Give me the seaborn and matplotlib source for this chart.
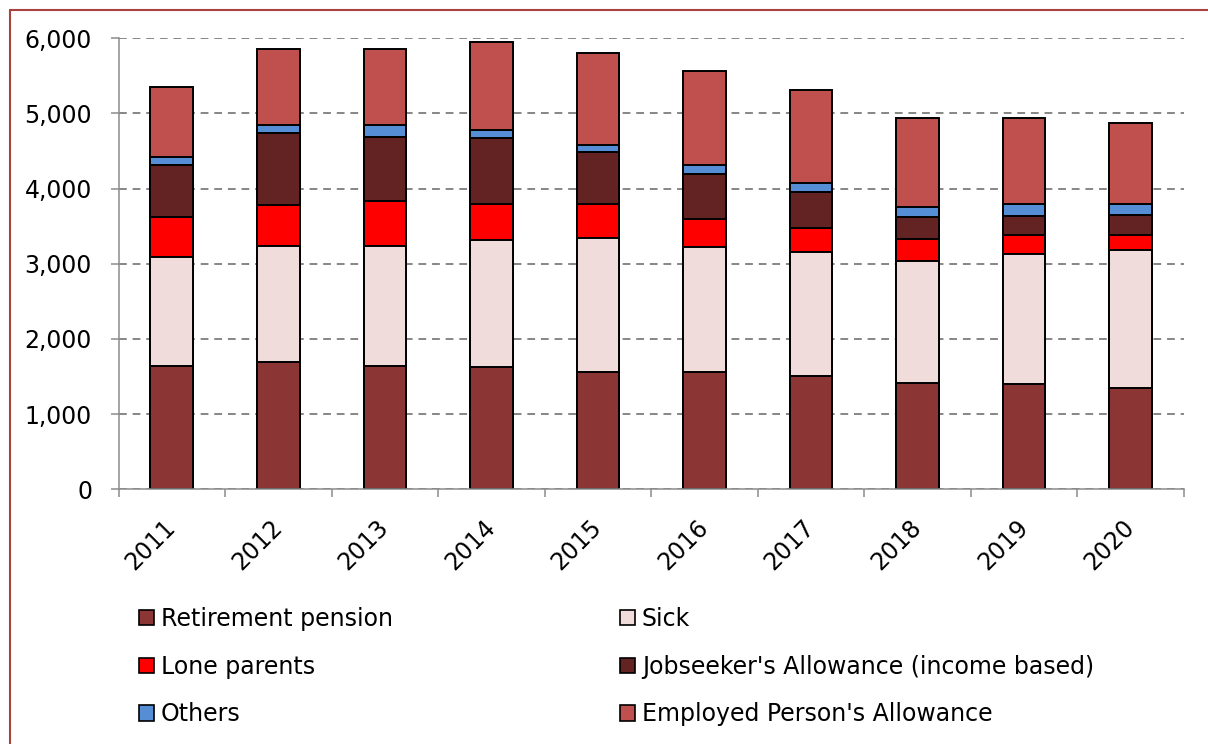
import matplotlib
matplotlib.use("Agg")
import matplotlib.pyplot as plt
import seaborn as sns
import pandas as pd
import numpy as np
from matplotlib.lines import Line2D
from matplotlib.patches import Patch
from matplotlib.ticker import FuncFormatter

# Veriler
years = ['2011', '2012', '2013', '2014', '2015', '2016', '2017', '2018', '2019', '2020']
retirement = [1636, 1698, 1641, 1627, 1557, 1557, 1503, 1410, 1397, 1348]
sick = [1455, 1535, 1592, 1690, 1787, 1663, 1650, 1632, 1729, 1832]
lone_parents = [536, 554, 598, 483, 448, 376, 319, 293, 262, 208]
jobseekers = [688, 954, 861, 878, 691, 599, 479, 284, 253, 262]
others = [102, 110, 159, 107, 102, 120, 129, 142, 159, 142]
employed = [940, 1003, 1011, 1166, 1215, 1246, 1228, 1175, 1136, 1086]

series_names = ['Retirement pension', 'Sick', 'Lone parents',
                "Jobseeker's Allowance (income based)", 'Others',
                "Employed Person's Allowance"]
series_values = [retirement, sick, lone_parents, jobseekers, others, employed]
colors = ['#8B3635', '#F0DCDB', '#FF0000', '#632322', '#558ED5', '#C0504D']

sns.set_style('white')
plt.rcParams['font.family'] = ['DejaVu Sans']
plt.rcParams['text.color'] = 'black'
plt.rcParams['xtick.labelcolor'] = 'black'
plt.rcParams['ytick.labelcolor'] = 'black'

fig = plt.figure(figsize=(12.08, 7.44), dpi=100)
ax = fig.add_axes([118.5 / 1208, (744 - 489.3) / 744, 1065.5 / 1208, 451 / 744])

# Kümülatif toplamlar: üstten alta doğru çiz, alt katman üsttekini örter
df = pd.DataFrame(dict(zip(series_names, series_values)), index=years)
cum = df.cumsum(axis=1)
for name, color in reversed(list(zip(series_names, colors))):
    part = pd.DataFrame({'year': years, 'value': cum[name].values})
    sns.barplot(data=part, x='year', y='value', color=color, saturation=1,
                errorbar=None, width=0.4, edgecolor='black', linewidth=1.4, ax=ax)

# Eksenler
ax.set_ylim(0, 6000)
ax.set_xlim(-0.5, 9.5)
ax.set_yticks(np.arange(0, 6001, 1000))
ax.yaxis.set_major_formatter(FuncFormatter(lambda v, p: f'{v:,.0f}'))
ax.set_xlabel('')
ax.set_ylabel('')

ax.yaxis.grid(True, linestyle=(0, (4, 3)), color='#868686', linewidth=1.4)
ax.set_axisbelow(True)

for s in ['top', 'right']:
    ax.spines[s].set_visible(False)
for s in ['left', 'bottom']:
    ax.spines[s].set_color('#8C8C8C')
    ax.spines[s].set_linewidth(1.1)

ax.tick_params(axis='y', direction='out', length=6, width=1.1, color='#8C8C8C',
               labelsize=17, pad=13, left=True, labelcolor='black')
ax.tick_params(axis='x', which='major', length=0, labelsize=17, pad=25,
               labelcolor='black')
ax.set_xticks(np.arange(-0.5, 10, 1), minor=True)
ax.tick_params(axis='x', which='minor', direction='out', length=6, width=1.1,
               color='#8C8C8C', bottom=True)
for lbl in ax.get_xticklabels():
    lbl.set_rotation(45)
    lbl.set_ha('right')
    lbl.set_va('center')
    lbl.set_rotation_mode('anchor')

# Lejant: iki sütun, ayrı ayrı yerleştir
handles = [Patch(facecolor=c, edgecolor='black', linewidth=1.2) for c in colors]
leg_kw = dict(frameon=False, fontsize=17, handlelength=0.62, handleheight=0.62,
              handletextpad=0.3, labelspacing=1.0, borderpad=0, borderaxespad=0,
              loc='upper left')
leg1 = fig.legend([handles[0], handles[2], handles[4]],
                  [series_names[0], series_names[2], series_names[4]],
                  bbox_to_anchor=(139 / 1208, 1 - 607 / 744), **leg_kw)
leg2 = fig.legend([handles[1], handles[3], handles[5]],
                  [series_names[1], series_names[3], series_names[5]],
                  bbox_to_anchor=(620 / 1208, 1 - 607 / 744), **leg_kw)
for leg in (leg1, leg2):
    for t in leg.get_texts():
        t.set_color('black')

# Grafik alanı çerçevesi
border = '#A8423F'
fig.add_artist(Line2D([10 / 1208, 10 / 1208], [0, 1 - 10 / 744],
                      transform=fig.transFigure, color=border, lw=1.5))
fig.add_artist(Line2D([10 / 1208, 1], [1 - 10 / 744, 1 - 10 / 744],
                      transform=fig.transFigure, color=border, lw=1.5))

fig.savefig('out.png', dpi=100)
